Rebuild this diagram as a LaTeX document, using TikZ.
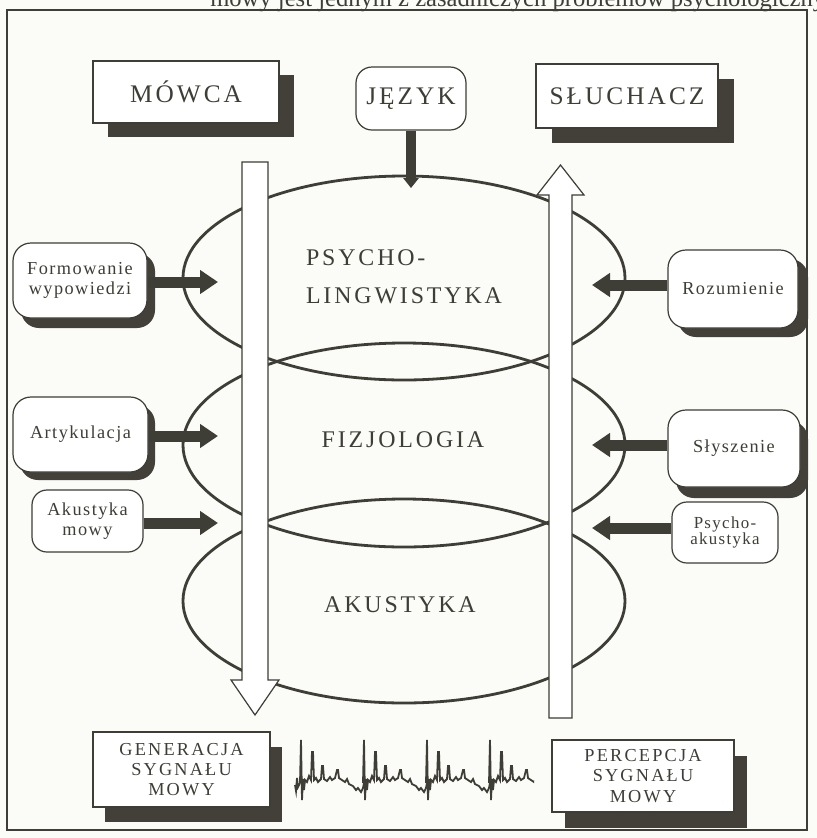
\documentclass[tikz,border=0pt]{standalone}
\usepackage{fontspec}
\setmainfont{Liberation Serif}
\newfontfamily\capsfont[LetterSpace=12]{Liberation Serif}
\newfontfamily\labelfont[LetterSpace=8]{Liberation Serif}
\usepackage{xcolor}
\usepackage{tikz}
\usetikzlibrary{calc}
\usetikzlibrary{arrows.meta}
\usetikzlibrary{shadows}
\usetikzlibrary{positioning}
\definecolor{ink}{RGB}{62,62,54}
\definecolor{shade}{RGB}{66,64,56}
\definecolor{paper}{RGB}{251,251,247}
\tikzset{
	plate/.style={draw=ink, line width=0.3mm, fill=white, text=ink, inner sep=0pt, align=center},
	pshadow/.style 2 args={drop shadow={shadow xshift=#1, shadow yshift=-#2, fill=shade, opacity=1}},
	pill/.style={plate, rounded corners=4.5mm},
	bigcaps/.style={text=ink, font=\capsfont\fontsize{17}{27}\selectfont},
	boxcaps/.style={font=\capsfont\fontsize{18}{22}\selectfont},
	lowcaps/.style={font=\capsfont\fontsize{13}{14.5}\selectfont},
	small/.style={font=\labelfont\fontsize{13}{14}\selectfont},
	fat/.style={ink, line width=2.75mm, -{Triangle[width=5.75mm,length=4.5mm]}},
	hollow/.style={draw=ink, line width=0.3mm, fill=white},
	ring/.style={ink, line width=0.7mm},
	wave/.style={ink, line width=0.45mm, line join=miter},
}

\begin{document}
\begin{tikzpicture}[x=0.25mm,y=-0.25mm]
		\useasboundingbox (0,0) rectangle (817,838);
		\fill[paper] (0,0) rectangle (817,838);
		\node[anchor=base west, text=ink, inner sep=0pt, font=\fontsize{17.5}{20}\selectfont] (caption) at (210,6.5) {mowy jest jednym z zasadniczych problemów psychologiczny};
		\draw[ink, line width=0.3mm] (7,10) rectangle (807,830);

		\draw[ring] (404,278) ellipse [x radius=55.25mm, y radius=25.5mm];
		\draw[ring] (404,445) ellipse [x radius=55.25mm, y radius=25.5mm];
		\draw[ring] (404,601) ellipse [x radius=55.25mm, y radius=25.5mm];

		\draw[hollow] (242,162) -- (268,162) -- (268,680) -- (279,680) -- (255,715) -- (231,680) -- (242,680) -- cycle;
		\draw[hollow] (549,718) -- (572,718) -- (572,195) -- (584,195) -- (560.5,165) -- (537,195) -- (549,195) -- cycle;

		\node[bigcaps, align=left] (psycho) at (404,277) {PSYCHO-\\LINGWISTYKA};
		\node[bigcaps] (fizjo) at (403,440) {FIZJOLOGIA};
		\node[bigcaps] (akust) at (400,605) {AKUSTYKA};

		\node[plate, boxcaps, pshadow={3.75mm}{3.5mm}, minimum width=46.5mm, minimum height=15.5mm] (mowca) at (186,92) {MÓWCA};
		\node[plate, boxcaps, rounded corners=4mm, minimum width=27.5mm, minimum height=15.75mm] (jezyk) at (411,98.5) {JĘZYK};
		\node[plate, boxcaps, pshadow={4mm}{3.75mm}, minimum width=45.5mm, minimum height=16mm] (sluchacz) at (627,96) {SŁUCHACZ};

		\coordinate (tipJ) at (411,188);
		\draw[ink, line width=2.4mm, -{Triangle[width=3.8mm,length=2.5mm]}] (jezyk.south) -- (tipJ);

		\node[pill, small, pshadow={2mm}{2.5mm}, minimum width=33.5mm, minimum height=18.75mm] (formowanie) at (80,280.5) {Formowanie\\wypowiedzi};
		\node[pill, small, pshadow={1.75mm}{2mm}, minimum width=33.75mm, minimum height=18.75mm] (artykulacja) at (80.5,434.5) {Artykulacja};
		\node[plate, small, rounded corners=3.75mm, minimum width=27.75mm, minimum height=15.5mm] (akmowy) at (87.5,521) {Akustyka\\mowy};

		\node[pill, small, pshadow={2.5mm}{2.25mm}, minimum width=32.5mm, minimum height=19.5mm] (rozumienie) at (733,289) {Rozumienie};
		\node[pill, small, pshadow={2mm}{2.75mm}, minimum width=33mm, minimum height=19.25mm] (slyszenie) at (734,448.5) {Słyszenie};
		\node[plate, rounded corners=3.75mm, font=\labelfont\fontsize{12}{12}\selectfont, minimum width=26.5mm, minimum height=15.25mm] (psychoak) at (725,532.5) {Psycho-\\akustyka};

		\coordinate (tipF) at (218,282);
		\coordinate (tipA) at (218,436);
		\coordinate (tipM) at (218,523);
		\coordinate (tipR) at (592,285);
		\coordinate (tipS) at (592,445);
		\coordinate (tipP) at (592,528);
		\draw[fat] (formowanie.east |- tipF) -- (tipF);
		\draw[fat] (artykulacja.east |- tipA) -- (tipA);
		\draw[fat] (akmowy.east |- tipM) -- (tipM);
		\draw[fat] (rozumienie.west |- tipR) -- (tipR);
		\draw[fat] (slyszenie.west |- tipS) -- (tipS);
		\draw[fat] (psychoak.west |- tipP) -- (tipP);

		\node[plate, lowcaps, pshadow={3mm}{3.75mm}, minimum width=44.25mm, minimum height=18.75mm] (generacja) at (181.5,769.5) {GENERACJA\\SYGNAŁU\\MOWY};
		\node[plate, lowcaps, pshadow={3.25mm}{4mm}, minimum width=45.5mm, minimum height=18mm] (percepcja) at (643,776) {PERCEPCJA\\SYGNAŁU\\MOWY};

		\draw[wave] (295,785) -- (296,791) -- (297,778) -- (298,787) -- (300,783);
		\begin{scope}
			\clip (290,700) rectangle (534,830);
			\foreach \s in {301,364,427,490}
				\draw[wave, shift={(\s,782)}] (-1,1) -- (0,-42) -- (1,18) -- (2,-3) -- (3,8) -- (4,-2) -- (6,0) -- (8,-6) -- (10,-2) -- (11,-30) -- (12,-30) -- (13,-2) -- (15,-4) -- (17,0) -- (20,-3) -- (21,-16) -- (22,-16) -- (23,-3) -- (26,-1) -- (29,-5) -- (31,-2) -- (34,-4) -- (36,-12) -- (37,-12) -- (38,-4) -- (41,-2) -- (44,0) -- (46,-3) -- (48,2) -- (52,4) -- (55,8) -- (57,6) -- (60,10) -- (62,6) -- (63,1);
		\end{scope}
	\end{tikzpicture}
\end{document}
